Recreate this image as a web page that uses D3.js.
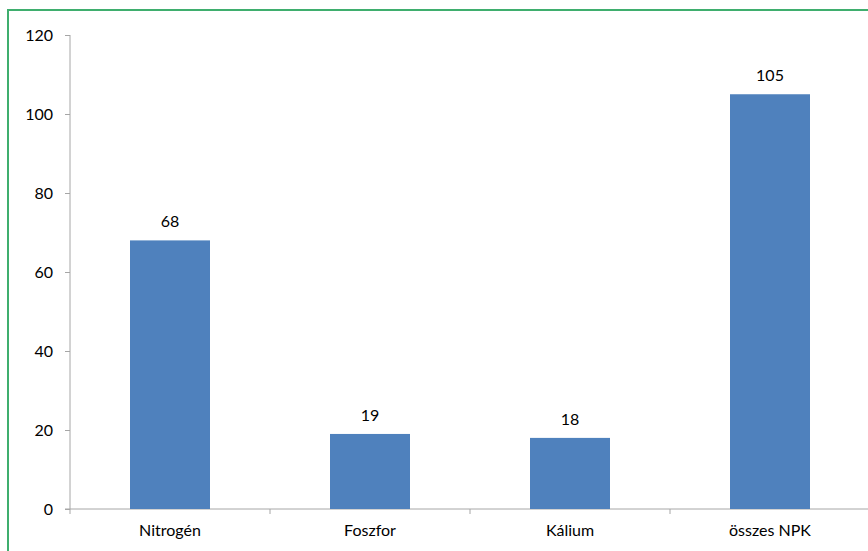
<!DOCTYPE html>
<html><head><meta charset="utf-8">
<script src="https://cdn.jsdelivr.net/npm/d3@7"></script>
<style>body{margin:0;background:#fff}svg{display:block}</style>
</head><body>
<svg id="c" width="868" height="551"></svg>
<script>
const categories = ["Nitrogén", "Foszfor", "Kálium", "összes NPK"];
const values = [68, 19, 18, 105];
const yTicks = [0, 20, 40, 60, 80, 100, 120];

const svg = d3.select("#c");
const font = "Lato, 'Open Sans', sans-serif";
const fs = 16;

// frame
svg.append("rect").attr("x", 8).attr("y", 10).attr("width", 880).attr("height", 560)
  .attr("fill", "none").attr("stroke", "#3fae6e").attr("stroke-width", 2);

const x = d3.scaleBand().domain(categories).range([70, 870]).padding(0);
const y = d3.scaleLinear().domain([0, 120]).range([509, 35]);
const axisColor = "#a6a6a6";

// y axis
const ya = svg.append("g").attr("transform", "translate(70,0)")
  .call(d3.axisLeft(y).tickValues(yTicks).tickSize(5).tickPadding(12));
ya.select(".domain").attr("stroke", axisColor).attr("d", "M0,35V514");
ya.selectAll(".tick line").attr("stroke", axisColor);
ya.selectAll(".tick text").attr("font-family", font).attr("font-size", fs).attr("fill", "#000");

// x axis
const xa = svg.append("g").attr("transform", "translate(0,509)")
  .call(d3.axisBottom(x).tickSize(0).tickPadding(16));
xa.select(".domain").attr("stroke", axisColor).attr("d", "M65,0H870");
xa.selectAll(".tick text").attr("font-family", font).attr("font-size", fs).attr("fill", "#000");
// boundary ticks
xa.selectAll(".bt").data(categories.slice(1)).enter().append("line")
  .attr("x1", d => x(d)).attr("x2", d => x(d)).attr("y1", 0).attr("y2", 5)
  .attr("stroke", axisColor);

const bw = x.bandwidth() * 0.4;
svg.selectAll(".bar").data(categories).enter().append("rect")
  .attr("x", d => x(d) + x.bandwidth() / 2 - bw / 2)
  .attr("y", (d, i) => y(values[i]))
  .attr("width", bw)
  .attr("height", (d, i) => y(0) - y(values[i]))
  .attr("fill", "#4f81bd");

svg.selectAll(".lbl").data(categories).enter().append("text")
  .attr("x", d => x(d) + x.bandwidth() / 2)
  .attr("y", (d, i) => y(values[i]) - 13)
  .attr("text-anchor", "middle")
  .attr("font-family", font).attr("font-size", fs).attr("fill", "#000")
  .text((d, i) => values[i]);
</script>
</body></html>
